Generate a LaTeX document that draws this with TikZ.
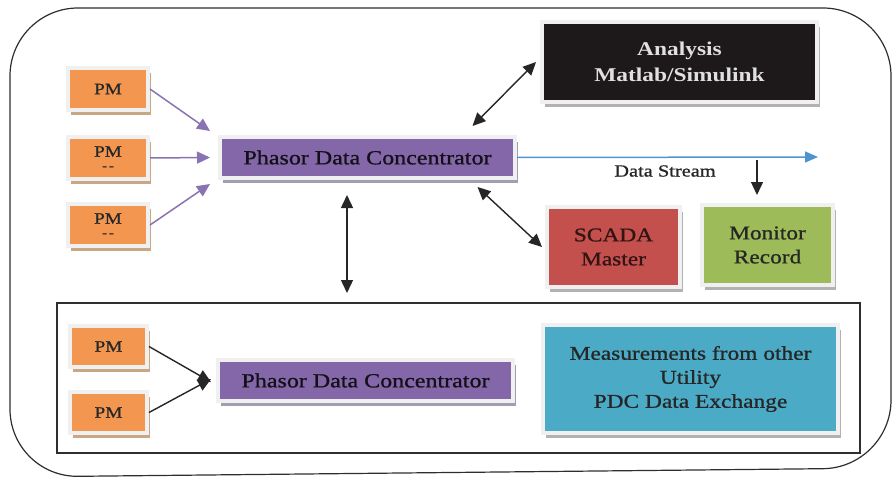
\documentclass[tikz,border=0pt]{standalone}
\usepackage{fontspec}
\setmainfont{Liberation Serif}[FakeStretch=1.2]
\newfontfamily\medserif{Liberation Serif}[FakeStretch=1.2, FakeBold=0.9]
\usetikzlibrary{arrows.meta,shadows}
\definecolor{pmorange}{HTML}{F39650}
\definecolor{pmshadow}{HTML}{C9A684}
\definecolor{pdcpurple}{HTML}{8467A8}
\definecolor{pdcshadow}{HTML}{A39DB0}
\definecolor{arrowpurple}{HTML}{8A73B2}
\definecolor{anablack}{HTML}{1D1819}
\definecolor{scadared}{HTML}{C3504D}
\definecolor{mongreen}{HTML}{9DBB59}
\definecolor{measblue}{HTML}{4BAAC6}
\definecolor{streamblue}{HTML}{4E95D0}
\definecolor{framegray}{HTML}{2E2E2E}
\newcommand{\pmdash}{\\[-5pt]{\fontsize{12}{12}\selectfont -\,-}}
\tikzset{
  x=1pt, y=-1pt,
  box/.style={draw=black!6, line width=4pt, inner sep=2pt, align=center,
    general shadow={fill=#1, shadow xshift=3pt, shadow yshift=-5pt}},
  pmbox/.style={box=pmshadow, fill=pmorange, minimum width=80pt, minimum height=42pt,
    font=\medserif\fontsize{16}{18}\selectfont, text=black!85},
  pdcbox/.style={box=pdcshadow, fill=pdcpurple, minimum width=295pt, minimum height=41pt,
    font=\medserif\fontsize{20}{22}\selectfont, text=black!85!pdcpurple},
  bigbox/.style={box=black!30, minimum height=80pt,
    font=\medserif\fontsize{19.5}{24}\selectfont},
  tip/.style={-{Triangle[length=13pt,width=12pt]}},
  dtip/.style={{Triangle[length=13pt,width=12pt]}-{Triangle[length=13pt,width=12pt]}},
  conn/.style={line width=1.4pt, draw=black!85, fill=black!85},
}
\begin{document}
\begin{tikzpicture}
\useasboundingbox (0,0) rectangle (892,479);

% outer rounded frame
\draw[framegray, line width=1.2pt, rounded corners=68pt]
  (10,8) -- (891,8) -- (891,468) -- (10,477) -- cycle;

% lower utility frame
\draw[framegray, line width=1.2pt] (57,303) rectangle (860,453);

% upper phasor measurement units
\node[pmbox] (pm1) at (108,89) {PM};
\node[pmbox] (pm2) at (108,158) {PM\pmdash};
\node[pmbox] (pm3) at (108,225) {PM\pmdash};

% upper concentrator
\node[pdcbox] (pdc1) at (367.5,157.5) {Phasor Data Concentrator};

% analysis, SCADA, monitor
\node[bigbox, fill=anablack, minimum width=275pt, text=white!88!black,
  font=\fontsize{19.5}{26}\selectfont\bfseries] (ana) at (679.5,62)
  {Analysis\\Matlab/Simulink};
\node[bigbox, fill=scadared, minimum width=133pt, text=black!75!scadared] (scada) at (613.5,247)
  {SCADA\\Master};
\node[bigbox, fill=mongreen, minimum width=131pt, text=black!85] (mon) at (767.5,245)
  {Monitor\\Record};

% lower units
\node[pmbox, minimum width=77pt, minimum height=41pt] (pm4) at (108.5,346.5) {PM};
\node[pmbox, minimum width=77pt, minimum height=41pt] (pm5) at (108.5,412.5) {PM};
\node[pdcbox] (pdc2) at (365.5,380.5) {Phasor Data Concentrator};
\node[bigbox, fill=measblue, minimum width=295pt, minimum height=108pt,
  text=black!85] (meas) at (690.5,379)
  {Measurements from other\\Utility\\PDC Data Exchange};

% connectors to the upper concentrator
\draw[tip, arrowpurple, fill=arrowpurple, line width=1.5pt] (pm1.east) -- ([xshift=-8pt,yshift=4pt]pdc1.north west);
\draw[tip, arrowpurple, fill=arrowpurple, line width=1.5pt] (pm2.east) -- ([xshift=-8pt]pdc1.west);
\draw[tip, arrowpurple, fill=arrowpurple, line width=1.5pt] (pm3.east) -- ([xshift=-8pt,yshift=-4pt]pdc1.south west);

% data exchange arrows (shifts are in page directions: positive y is up)
\draw[conn, dtip] ([xshift=105pt,yshift=9pt]pdc1.north) -- ([xshift=-4pt]ana.west);
\draw[conn, dtip] ([xshift=110pt,yshift=-7pt]pdc1.south) -- ([xshift=-3pt]scada.west);
\draw[conn, dtip] ([xshift=-20.5pt,yshift=-15pt]pdc1.south) -- ([xshift=-18.5pt,yshift=65pt]pdc2.north);

% data stream
\coordinate (dsend) at (818,157);
\coordinate (tap) at (757,160);
\draw[-{Triangle[length=13pt,width=11pt]}, streamblue, line width=1.5pt] (pdc1.east) -- (dsend);
\node[font=\medserif\fontsize{17}{19}\selectfont, text=black!85] (ds) at (665,171) {Data Stream};
\draw[conn, tip] (tap) -- ([xshift=-10.5pt,yshift=8pt]mon.north);

% connectors to the lower concentrator
\draw[conn, tip] (pm4.east) -- ([xshift=-5pt,yshift=-1.5pt]pdc2.west);
\draw[conn, tip] (pm5.east) -- ([xshift=-5pt,yshift=1.5pt]pdc2.west);
\end{tikzpicture}
\end{document}
